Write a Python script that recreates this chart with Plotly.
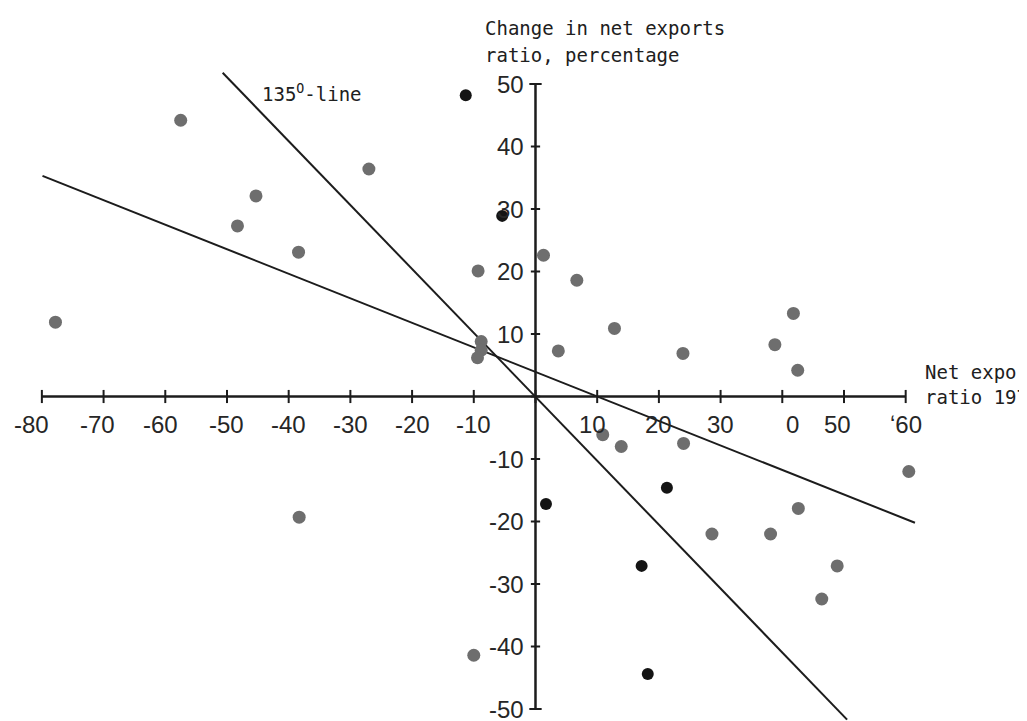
import plotly.graph_objects as go

# ---------------- data ----------------
grey_x = [-57.5, -27.0, -45.3, -48.3, -38.4, -77.8, -38.3, -9.3, 1.3, 6.7, 12.8, 3.7,
          -8.8, -8.8, -9.4, 23.9, 41.8, 38.8, 42.5, 60.5, 42.6, 38.1, 48.9, 46.4,
          10.9, 13.9, 24.0, 28.6, -10.0]
grey_y = [44.2, 36.4, 32.1, 27.3, 23.1, 11.9, -19.3, 20.1, 22.6, 18.6, 10.9, 7.3,
          8.8, 7.4, 6.2, 6.9, 13.3, 8.3, 4.2, -12.0, -17.9, -22.0, -27.1, -32.4,
          -6.1, -8.0, -7.5, -22.0, -41.4]
black_x = [-11.3, -5.4, 21.3, 1.7, 17.2, 18.2]
black_y = [48.2, 28.9, -14.6, -17.2, -27.1, -44.4]

line135_x = [-50.7, 50.5]
line135_y = [51.8, -51.7]
regr_x = [-79.9, 61.5]
regr_y = [35.3, -20.2]

x_ticks = [-80, -70, -60, -50, -40, -30, -20, -10, 0, 10, 20, 30, 40, 50, 60]
x_labels = {-80: "-80", -70: "-70", -60: "-60", -50: "-50", -40: "-40", -30: "-30",
            -20: "-20", -10: "-10", 10: "10", 20: "20", 30: "30", 40: "0", 50: "50",
            60: "\u02bb60"}
y_ticks = [-50, -40, -30, -20, -10, 0, 10, 20, 30, 40, 50]
y_labels = {50: "50", 40: "40", 30: "30", 20: "20", 10: "10", -10: "-10",
            -20: "-20", -30: "-30", -40: "-40", -50: "-50"}

# ---------------- style ----------------
INK = "#1c1c1c"
NUM_FONT = dict(family="Liberation Sans, Arial, sans-serif", size=24, color="#262626")
MONO_FONT = dict(family="DejaVu Sans Mono, Liberation Mono, monospace", size=19, color="#202020")
x_label_shift = {-80: -10, -70: -6, -60: -5, 10: -5, 40: 10, 50: -6}

fig = go.Figure()

fig.add_trace(go.Scatter(x=line135_x, y=line135_y, mode="lines",
                         line=dict(color=INK, width=2), hoverinfo="skip"))
fig.add_trace(go.Scatter(x=regr_x, y=regr_y, mode="lines",
                         line=dict(color=INK, width=2), hoverinfo="skip"))
fig.add_trace(go.Scatter(x=grey_x, y=grey_y, mode="markers",
                         marker=dict(size=13, color="#6e6e6e", line=dict(width=0))))
fig.add_trace(go.Scatter(x=black_x, y=black_y, mode="markers",
                         marker=dict(size=12, color="#141414", line=dict(width=0))))

shapes = []
shapes.append(dict(type="line", xref="x", yref="y", x0=x_ticks[0], x1=x_ticks[-1], y0=0, y1=0,
                   line=dict(color=INK, width=2.5)))
shapes.append(dict(type="line", xref="x", yref="y", x0=0, x1=0, y0=y_ticks[0], y1=y_ticks[-1],
                   line=dict(color=INK, width=2.5)))
for t in x_ticks:
    shapes.append(dict(type="line", xref="x", yref="y", x0=t, x1=t, y0=-1.05, y1=1.05,
                       line=dict(color=INK, width=2)))
for t in y_ticks:
    half = 1.0 if abs(t) == 50 else 0.75
    shapes.append(dict(type="line", xref="x", yref="y", x0=-half, x1=half, y0=t, y1=t,
                       line=dict(color=INK, width=2)))

annotations = []
for t, lab in x_labels.items():
    annotations.append(dict(x=t, y=-4.4, xref="x", yref="y", text=lab, showarrow=False,
                            xanchor="center", yanchor="middle", font=NUM_FONT,
                            xshift=x_label_shift.get(t, 0)))
for t, lab in y_labels.items():
    annotations.append(dict(x=0, y=t, xref="x", yref="y", text=lab, showarrow=False,
                            xanchor="right", yanchor="middle", font=NUM_FONT, xshift=-9))

annotations += [
    dict(x=-8.5, y=59.0, xref="x", yref="y", text="Change in net exports", showarrow=False,
         xanchor="left", yanchor="middle", font=MONO_FONT),
    dict(x=-8.5, y=54.6, xref="x", yref="y", text="ratio, percentage", showarrow=False,
         xanchor="left", yanchor="middle", font=MONO_FONT),
    dict(x=-44.7, y=48.6, xref="x", yref="y", text="135<sup>O</sup>-line", showarrow=False,
         xanchor="left", yanchor="middle", font=MONO_FONT),
    dict(x=62.8, y=3.9, xref="x", yref="y", text="Net exports", showarrow=False,
         xanchor="left", yanchor="middle", font=MONO_FONT),
    dict(x=62.8, y=-0.1, xref="x", yref="y", text="ratio 1970", showarrow=False,
         xanchor="left", yanchor="middle", font=MONO_FONT),
]

# page body has an 8px margin: the figure covers screen px 8..1027 x 8..721
fig.update_layout(
    width=1019, height=713, autosize=False,
    margin=dict(l=0, r=0, t=0, b=0, pad=0),
    paper_bgcolor="white", plot_bgcolor="white",
    showlegend=False,
    xaxis=dict(range=[-85.49, 79.66], visible=False, fixedrange=True),
    yaxis=dict(range=[-51.92, 62.16], visible=False, fixedrange=True),
    shapes=shapes, annotations=annotations,
)

fig.write_html("out.html", config={"displayModeBar": False})
